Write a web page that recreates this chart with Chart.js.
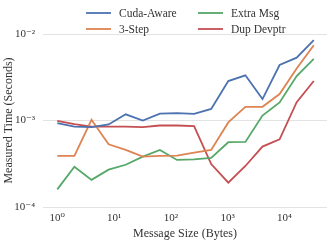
<!DOCTYPE html>
<html>
<head>
<meta charset="utf-8">
<script src="https://cdn.jsdelivr.net/npm/chart.js@4"></script>
<style>
  html, body { margin: 0; padding: 0; background: #fff; }
  #wrap { width: 332px; height: 241px; }
</style>
</head>
<body>
<div id="wrap"><canvas id="timeChart"></canvas></div>
<script>
var sizes = [1, 2, 4, 8, 16, 32, 64, 128, 256, 512, 1024, 2048, 4096, 8192, 16384, 32768];
var cudaAware = [9.3e-4, 8.5e-4, 8.4e-4, 9.0e-4, 1.18e-3, 1.0e-3, 1.2e-3, 1.22e-3, 1.19e-3, 1.36e-3, 2.86e-3, 3.33e-3, 1.77e-3, 4.38e-3, 5.33e-3, 8.47e-3];
var threeStep = [3.89e-4, 3.89e-4, 1.02e-3, 5.31e-4, 4.57e-4, 3.82e-4, 3.89e-4, 3.92e-4, 4.26e-4, 4.57e-4, 9.5e-4, 1.44e-3, 1.44e-3, 2.02e-3, 4.0e-3, 7.41e-3];
var extraMsg = [1.6e-4, 2.92e-4, 2.06e-4, 2.7e-4, 3.08e-4, 3.82e-4, 4.57e-4, 3.5e-4, 3.56e-4, 3.69e-4, 5.61e-4, 5.66e-4, 1.14e-3, 1.62e-3, 3.27e-3, 5.15e-3];
var dupDevptr = [9.9e-4, 9.06e-4, 8.5e-4, 8.5e-4, 8.5e-4, 8.4e-4, 8.75e-4, 8.75e-4, 8.6e-4, 3.14e-4, 1.91e-4, 2.98e-4, 4.99e-4, 6.07e-4, 1.63e-3, 2.86e-3];

var seriesNames = ["Cuda-Aware", "3-Step", "Extra Msg", "Dup Devptr"];
var seriesColors = ["#4C72B0", "#DD8452", "#55A868", "#C44E52"];

var FONT = "'Liberation Serif', 'DejaVu Serif', serif";
var TEXT = "#333333";

var sup = {"0":"⁰","1":"¹","2":"²","3":"³","4":"⁴","5":"⁵","-":"⁻"};
function powLabel(v) {
  var e = Math.log10(v);
  if (Math.abs(e - Math.round(e)) > 1e-9) return "";
  var s = String(Math.round(e)).split("").map(function (c) { return sup[c]; }).join("");
  return "10" + s;
}
function isPow(v) {
  var e = Math.log10(v);
  return Math.abs(e - Math.round(e)) < 1e-9;
}

function toPoints(arr) {
  return arr.map(function (y, i) { return {x: sizes[i], y: y}; });
}

// two-column legend like matplotlib ncol=2
var legendPlugin = {
  id: "twoColLegend",
  afterDraw: function (chart) {
    var ctx = chart.ctx;
    var colX = [86, 198];
    var rowY = [13, 29];
    ctx.save();
    ctx.font = "11.5px " + FONT;
    ctx.textBaseline = "middle";
    chart.data.datasets.forEach(function (ds, i) {
      var col = Math.floor(i / 2), row = i % 2;
      var x = colX[col], y = rowY[row];
      ctx.strokeStyle = ds.borderColor;
      ctx.lineWidth = 1.8;
      ctx.beginPath();
      ctx.moveTo(x, y);
      ctx.lineTo(x + 25, y);
      ctx.stroke();
      ctx.fillStyle = TEXT;
      ctx.fillText(ds.label, x + 33, y + 0.5);
    });
    ctx.restore();
  }
};

new Chart("timeChart", {
  type: "line",
  data: {
    datasets: [
      {label: seriesNames[0], data: toPoints(cudaAware), borderColor: seriesColors[0]},
      {label: seriesNames[1], data: toPoints(threeStep), borderColor: seriesColors[1]},
      {label: seriesNames[2], data: toPoints(extraMsg), borderColor: seriesColors[2]},
      {label: seriesNames[3], data: toPoints(dupDevptr), borderColor: seriesColors[3]}
    ]
  },
  options: {
    animation: false,
    responsive: true,
    maintainAspectRatio: false,
    layout: {padding: {top: 34, right: 2, left: 0, bottom: 0}},
    elements: {
      line: {borderWidth: 1.8, tension: 0, fill: false},
      point: {radius: 0}
    },
    plugins: {
      legend: {display: false},
      tooltip: {enabled: false}
    },
    scales: {
      x: {
        type: "logarithmic",
        min: 0.56,
        max: 56000,
        border: {display: false},
        grid: {display: false, drawTicks: false},
        ticks: {
          autoSkip: false,
          maxRotation: 0,
          padding: 5,
          color: TEXT,
          font: {family: FONT, size: 11},
          callback: function (v) { return powLabel(v); }
        },
        title: {
          display: true,
          text: "Message Size (Bytes)",
          color: TEXT,
          font: {family: FONT, size: 12},
          padding: {top: 0, bottom: 0}
        },
        afterFit: function (scale) { scale.height = 34; }
      },
      y: {
        type: "logarithmic",
        min: 1e-4,
        max: 1e-2,
        border: {display: false},
        grid: {
          drawTicks: false,
          lineWidth: 1,
          color: function (c) { return c.tick && isPow(c.tick.value) ? "#e3e3e3" : "rgba(0,0,0,0)"; }
        },
        ticks: {
          autoSkip: false,
          padding: 8,
          color: TEXT,
          font: {family: FONT, size: 11},
          callback: function (v) { return powLabel(v); }
        },
        title: {
          display: true,
          text: "Measured Time (Seconds)",
          color: TEXT,
          font: {family: FONT, size: 12},
          padding: {top: 2, bottom: 0}
        },
        afterFit: function (scale) { scale.width = 43; }
      }
    }
  },
  plugins: [legendPlugin]
});
</script>
</body>
</html>
